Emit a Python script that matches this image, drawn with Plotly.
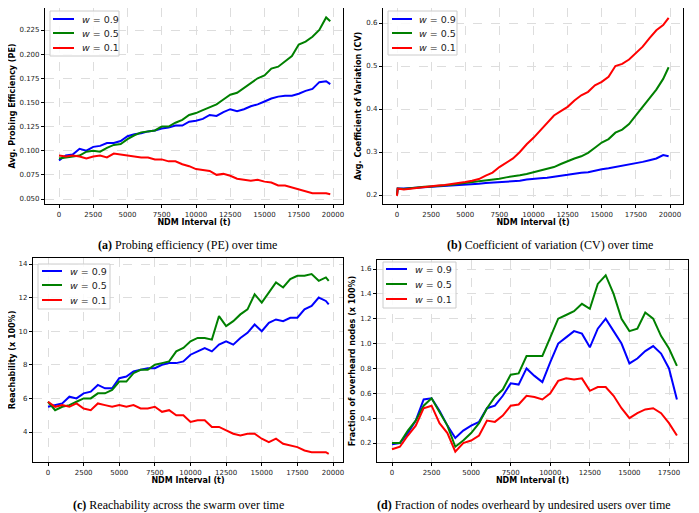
import plotly.graph_objects as go

# The page body keeps the browser's default 8px margin, so the figure is
# sized to fill the rest of the 699x513 window and positions are given in
# window pixels, shifted by that margin.
WIN_W, WIN_H, OFF = 699, 513, 8
W, H = WIN_W - OFF, WIN_H - OFF

# ---------------- Data ----------------
labels = ["<i>w</i> = 0.9", "<i>w</i> = 0.5", "<i>w</i> = 0.1"]
colors = ["#0000ff", "#008000", "#ff0000"]

# (a) Probing efficiency
pe_t = list(range(0, 20000, 500)) + [19800]
pe_w09 = [0.090, 0.095, 0.096, 0.102, 0.100, 0.104, 0.105, 0.108, 0.108, 0.110,
          0.115, 0.117, 0.118, 0.120, 0.121, 0.123, 0.124, 0.126, 0.126, 0.130,
          0.131, 0.133, 0.137, 0.136, 0.140, 0.143, 0.141, 0.143, 0.146, 0.148,
          0.151, 0.154, 0.156, 0.157, 0.157, 0.159, 0.162, 0.164, 0.171, 0.172, 0.169]
pe_w05 = [0.092, 0.093, 0.094, 0.095, 0.099, 0.100, 0.099, 0.103, 0.106, 0.107,
          0.112, 0.116, 0.119, 0.120, 0.121, 0.125, 0.125, 0.129, 0.132, 0.137,
          0.139, 0.142, 0.145, 0.148, 0.153, 0.158, 0.160, 0.165, 0.170, 0.175,
          0.178, 0.185, 0.187, 0.193, 0.198, 0.210, 0.213, 0.218, 0.225, 0.238, 0.234]
pe_w01 = [0.095, 0.094, 0.095, 0.094, 0.092, 0.094, 0.095, 0.093, 0.097, 0.096,
          0.095, 0.094, 0.093, 0.093, 0.091, 0.091, 0.089, 0.089, 0.086, 0.084,
          0.081, 0.080, 0.079, 0.075, 0.076, 0.074, 0.071, 0.070, 0.069, 0.070,
          0.068, 0.067, 0.064, 0.064, 0.062, 0.060, 0.058, 0.056, 0.056, 0.056, 0.055]

# (b) Coefficient of variation
cv_t = [0, 50] + list(range(500, 20000, 500)) + [19900]
cv_w09 = [0.200, 0.215, 0.215, 0.216, 0.216, 0.217, 0.218, 0.219, 0.220, 0.221,
          0.222, 0.223, 0.225, 0.226, 0.228, 0.229, 0.230, 0.231, 0.232, 0.233,
          0.236, 0.238, 0.239, 0.240, 0.243, 0.245, 0.247, 0.250, 0.252, 0.253,
          0.257, 0.260, 0.262, 0.265, 0.268, 0.270, 0.273, 0.277, 0.281, 0.285,
          0.293, 0.290]
cv_w05 = [0.200, 0.215, 0.214, 0.216, 0.217, 0.219, 0.220, 0.221, 0.222, 0.224,
          0.226, 0.228, 0.229, 0.231, 0.233, 0.236, 0.238, 0.241, 0.243, 0.246,
          0.249, 0.253, 0.256, 0.261, 0.265, 0.272, 0.279, 0.285, 0.290, 0.298,
          0.310, 0.322, 0.330, 0.345, 0.352, 0.365, 0.385, 0.405, 0.425, 0.445,
          0.470, 0.497]
cv_w01 = [0.198, 0.215, 0.213, 0.215, 0.216, 0.219, 0.220, 0.222, 0.223, 0.225,
          0.227, 0.230, 0.233, 0.237, 0.245, 0.252, 0.265, 0.276, 0.285, 0.300,
          0.318, 0.333, 0.350, 0.368, 0.385, 0.395, 0.405, 0.420, 0.432, 0.440,
          0.455, 0.463, 0.475, 0.500, 0.505, 0.515, 0.530, 0.545, 0.565, 0.583,
          0.595, 0.612]

# (c) Reachability
re_t = list(range(0, 20000, 500)) + [19700]
re_w09 = [5.5, 5.6, 5.7, 6.1, 6.0, 6.3, 6.4, 6.8, 6.6, 6.6,
          7.2, 7.3, 7.6, 7.7, 7.8, 7.8, 8.0, 8.1, 8.1, 8.2,
          8.6, 8.8, 9.0, 8.8, 9.2, 9.4, 9.2, 9.6, 9.9, 10.4,
          10.0, 10.5, 10.7, 10.6, 10.8, 10.8, 11.3, 11.5, 12.0, 11.8, 11.6]
re_w05 = [5.8, 5.3, 5.5, 5.6, 5.8, 6.0, 6.0, 6.3, 6.3, 6.5,
          7.0, 7.0, 7.5, 7.7, 7.7, 8.0, 8.1, 8.2, 8.8, 9.0,
          9.4, 9.6, 9.6, 9.5, 10.9, 10.3, 10.6, 11.0, 11.3, 12.2,
          11.7, 12.3, 12.9, 12.6, 13.1, 13.3, 13.3, 13.4, 13.0, 13.2, 13.0]
re_w01 = [5.8, 5.5, 5.6, 5.5, 5.7, 5.4, 5.3, 5.7, 5.6, 5.5,
          5.6, 5.5, 5.6, 5.4, 5.4, 5.5, 5.2, 5.3, 5.0, 5.0,
          4.6, 4.7, 4.7, 4.3, 4.3, 4.1, 3.9, 3.8, 3.9, 3.9,
          3.6, 3.4, 3.6, 3.3, 3.2, 3.1, 2.9, 2.8, 2.8, 2.8, 2.7]

# (d) Fraction of overheard nodes
ov_t = list(range(0, 18001, 500))
ov_w09 = [0.19, 0.20, 0.28, 0.38, 0.55, 0.56, 0.46, 0.34, 0.24, 0.30,
          0.34, 0.37, 0.48, 0.50, 0.58, 0.68, 0.67, 0.80, 0.74, 0.69,
          0.85, 1.00, 1.05, 1.10, 1.08, 0.97, 1.12, 1.20, 1.10, 1.00,
          0.84, 0.88, 0.94, 0.98, 0.92, 0.80, 0.55]
ov_w05 = [0.20, 0.20, 0.30, 0.38, 0.50, 0.56, 0.45, 0.34, 0.17, 0.22,
          0.28, 0.36, 0.48, 0.57, 0.63, 0.75, 0.76, 0.90, 0.90, 0.90,
          1.05, 1.20, 1.23, 1.26, 1.32, 1.28, 1.48, 1.55, 1.40, 1.20,
          1.10, 1.12, 1.25, 1.20, 1.06, 0.96, 0.82]
ov_w01 = [0.15, 0.17, 0.26, 0.34, 0.48, 0.50, 0.36, 0.28, 0.13, 0.20,
          0.22, 0.26, 0.38, 0.37, 0.42, 0.50, 0.51, 0.58, 0.57, 0.55,
          0.60, 0.70, 0.72, 0.71, 0.72, 0.62, 0.65, 0.65, 0.58, 0.48,
          0.40, 0.44, 0.47, 0.48, 0.44, 0.36, 0.26]

captions = ["<b>(a)</b> Probing efficiency (PE) over time",
            "<b>(b)</b> Coefficient of variation (CV) over time",
            "<b>(c)</b> Reachability across the swarm over time",
            "<b>(d)</b> Fraction of nodes overheard by undesired users over time"]
ytitles = ["Avg. Probing Efficiency (PE)", "Avg. Coefficient of Variation (CV)",
           "Reachability (x 100%)", "Fraction of overheard nodes (x 100%)"]
xtitle = "NDM Interval (t)"

# ---------------- Layout helpers (window pixels -> paper) ----------------
def px_x(p):
    return (p - OFF) / W

def px_y(p):
    return 1 - (p - OFF) / H

def axis_frame(lo_px, hi_px, cal, is_y):
    """Frame pixels + calibration (px1, v1, px2, v2) -> domain and range."""
    p1, v1, p2, v2 = cal
    lo_px, hi_px = max(lo_px, OFF), hi_px
    def val(p):
        return v1 + (p - p1) * (v2 - v1) / (p2 - p1)
    if is_y:
        dom = [max(0.0, px_y(hi_px)), min(1.0, px_y(lo_px))]
        rng = [val(hi_px), val(lo_px)]
    else:
        dom = [max(0.0, px_x(lo_px)), min(1.0, px_x(hi_px))]
        rng = [val(lo_px), val(hi_px)]
    return dom, rng

panels = [
    dict(t=pe_t, ys=[pe_w09, pe_w05, pe_w01],
         xf=(45, 343), xcal=(59, 0, 333, 20000),
         yf=(5, 204), ycal=(30, 0.225, 199, 0.050), ytick=(0.05, 0.025), yfmt=".3f",
         legbox=(50, 119, 11, 56), legline=(53, 74), legtext=80, legy=(19, 33, 48),
         cap=(187, 245)),
    dict(t=cv_t, ys=[cv_w09, cv_w05, cv_w01],
         xf=(383, 683), xcal=(397, 0, 670, 20000),
         yf=(5, 204), ycal=(23, 0.6, 195, 0.2), ytick=(0.2, 0.1), yfmt=".1f",
         legbox=(388, 457, 11, 55), legline=(392, 412), legtext=417, legy=(19, 33, 48),
         cap=(550, 245)),
    dict(t=re_t, ys=[re_w09, re_w05, re_w01],
         xf=(33, 343), xcal=(48, 0, 333, 20000),
         yf=(258, 462), ycal=(264, 14, 432, 4), ytick=(4, 2), yfmt="d",
         legbox=(38, 110, 264, 309), legline=(42, 62), legtext=68, legy=(271, 285, 300),
         cap=(178, 505)),
    dict(t=ov_t, ys=[ov_w09, ov_w05, ov_w01],
         xf=(377, 688), xcal=(392, 0, 669, 17500),
         yf=(260, 462), ycal=(269, 1.6, 443, 0.2), ytick=(0.2, 0.2), yfmt=".1f",
         legbox=(383, 456, 262, 308), legline=(386, 407), legtext=413, legy=(269, 284, 299),
         cap=(524, 505)),
]

fig = go.Figure()
layout = dict(width=W, height=H, margin=dict(l=0, r=0, t=0, b=0),
              paper_bgcolor="white", plot_bgcolor="white",
              font=dict(family="DejaVu Sans", size=7, color="#222222"),
              showlegend=False, annotations=[], shapes=[])

for i, p in enumerate(panels):
    n = i + 1
    xa = "x" if n == 1 else f"x{n}"
    ya = "y" if n == 1 else f"y{n}"
    for k in range(3):
        fig.add_trace(go.Scatter(x=p["t"], y=p["ys"][k], mode="lines", name=labels[k],
                                 line=dict(color=colors[k], width=2),
                                 xaxis=xa, yaxis=ya))
    xdom, xrng = axis_frame(p["xf"][0], p["xf"][1], p["xcal"], False)
    ydom, yrng = axis_frame(p["yf"][0], p["yf"][1], p["ycal"], True)
    axis_common = dict(showline=True, mirror=True, linecolor="black", linewidth=1.2,
                       ticks="outside", ticklen=3, tickcolor="black", tickwidth=1,
                       showgrid=True, gridcolor="#dddddd", griddash="dash", gridwidth=0.8,
                       zeroline=False, tickfont=dict(size=7, color="#222222"))
    layout["xaxis" if n == 1 else f"xaxis{n}"] = dict(
        domain=xdom, range=xrng, anchor=ya,
        tickmode="linear", tick0=0, dtick=2500, tickformat="d",
        title=dict(text=f"<b>{xtitle}</b>", font=dict(size=8, color="black"), standoff=1),
        **axis_common)
    layout["yaxis" if n == 1 else f"yaxis{n}"] = dict(
        domain=ydom, range=yrng, anchor=xa,
        tickmode="linear", tick0=p["ytick"][0], dtick=p["ytick"][1], tickformat=p["yfmt"],
        title=dict(text=f"<b>{ytitles[i]}</b>", font=dict(size=8, color="black"), standoff=3),
        **axis_common)
    # legend box drawn in paper space
    bl, br, bt2, bb = p["legbox"]
    layout["shapes"].append(dict(type="rect", xref="paper", yref="paper",
                                 x0=px_x(bl), x1=px_x(br), y0=px_y(bb), y1=px_y(bt2),
                                 line=dict(color="#cccccc", width=1),
                                 fillcolor="rgba(255,255,255,0.85)", layer="above"))
    for k in range(3):
        yy = px_y(p["legy"][k])
        layout["shapes"].append(dict(type="line", xref="paper", yref="paper",
                                     x0=px_x(p["legline"][0]), x1=px_x(p["legline"][1]),
                                     y0=yy, y1=yy, line=dict(color=colors[k], width=2),
                                     layer="above"))
        layout["annotations"].append(dict(
            text=labels[k], x=px_x(p["legtext"]), y=yy, xref="paper", yref="paper",
            xanchor="left", yanchor="middle", showarrow=False,
            font=dict(family="DejaVu Sans", size=9.5, color="#222222")))
    layout["annotations"].append(dict(
        text=captions[i], x=px_x(p["cap"][0]), y=px_y(p["cap"][1]),
        xref="paper", yref="paper", xanchor="center", yanchor="middle",
        showarrow=False, font=dict(family="Liberation Serif", size=12, color="black")))

fig.update_layout(**layout)
fig.write_html("out.html")
